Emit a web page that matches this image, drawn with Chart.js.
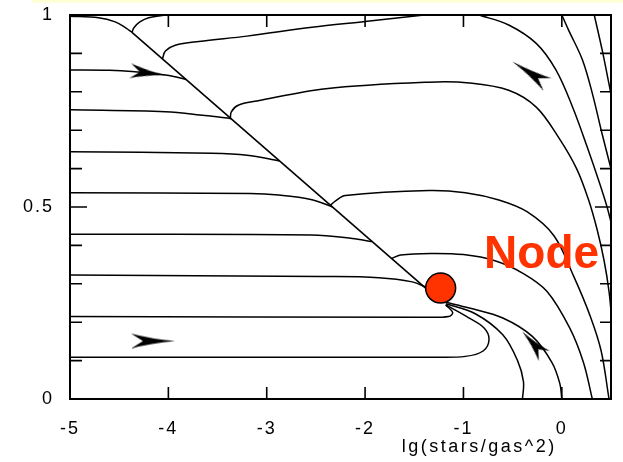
<!DOCTYPE html>
<html>
<head>
<meta charset="utf-8">
<script src="https://cdn.jsdelivr.net/npm/chart.js@4.4.1/dist/chart.umd.min.js"></script>
<style>
  body { margin: 0; background: #fff; }
  #wrap { position: relative; width: 623px; height: 462px; }
  #faixa { position: absolute; left: 32px; top: 0; width: 591px; height: 3px; background: #ffffd8; }
</style>
</head>
<body>
<div id="wrap">
  <div id="faixa"></div>
  <canvas id="grafico" width="623" height="462"></canvas>
</div>
<script>
// eixos
const ticksX = [-5, -4, -3, -2, -1, 0];
const rotulosX = ['-5', '-4', '-3', '-2', '-1', '0'];
const ticksY = [0, 0.5, 1];
const rotulosY = ['0', '0.5', '1'];
const marcasX = [-4, -3, -2, -1, 0];
const marcasY = [0.1, 0.2, 0.3, 0.4, 0.5, 0.6, 0.7, 0.8, 0.9];
const tituloX = 'lg(stars/gas^2)';

// trajetorias [x, y]
const curvaA = [[-5, 0.997], [-4.71, 0.993], [-4.54, 0.982], [-4.43, 0.966], [-4.37, 0.955]];
const curvaB = [[-4.02, 1.0], [-4.2, 0.993], [-4.29, 0.982], [-4.35, 0.967], [-4.37, 0.955]];
const diagonal = [[-4.37, 0.955], [-1.3, 0.27]];
const curvaC = [[-4.06, 0.886], [-4.03, 0.906], [-3.93, 0.921], [-3.69, 0.931], [-3.2, 0.945], [-2.54, 0.968], [-2.0, 0.983], [-1.4, 1.0]];
const curvaC2 = [[-3.37, 0.73], [-3.36, 0.748], [-3.29, 0.765], [-3.1, 0.776], [-2.4, 0.808], [-1.35, 0.825], [-0.94, 0.823], [-0.54, 0.804], [-0.26, 0.76], [-0.03, 0.68], [0.15, 0.6], [0.27, 0.52], [0.36, 0.44], [0.43, 0.36], [0.48, 0.28], [0.51, 0.2]];
const curvaC3 = [[-2.35, 0.505], [-2.3, 0.516], [-2.2, 0.53], [-1.35, 0.543], [-0.98, 0.537], [-0.64, 0.518], [-0.35, 0.487], [-0.08, 0.425], [0.12, 0.32], [0.29, 0.215], [0.4, 0.125], [0.48, 0]];
const curvaC4 = [[-1.73, 0.366], [-1.64, 0.375], [-1.33, 0.379], [-1.0, 0.376], [-0.68, 0.36], [-0.4, 0.328], [-0.15, 0.28], [0.08, 0.185], [0.22, 0.095], [0.31, 0]];
const curvaD = [[-0.84, 1.0], [-0.54, 0.974], [-0.26, 0.926], [-0.06, 0.857], [0.11, 0.76], [0.26, 0.655], [0.38, 0.565], [0.46, 0.5], [0.51, 0.45]];
const curvaE = [[0.0, 1.0], [0.07, 0.96], [0.21, 0.883], [0.31, 0.796], [0.41, 0.69], [0.51, 0.59]];
const curvaF = [[0.33, 1.0], [0.41, 0.909], [0.48, 0.82], [0.51, 0.78]];
const h1 = [[-5, 0.857], [-4.6, 0.856], [-4.37, 0.853], [-4.03, 0.844], [-3.93, 0.839], [-3.82, 0.832]];
const h2 = [[-5, 0.753], [-4.03, 0.748], [-3.63, 0.738], [-3.36, 0.73]];
const h3 = [[-5, 0.644], [-3.56, 0.64], [-3.2, 0.635], [-2.87, 0.62]];
const h4 = [[-5, 0.537], [-3.17, 0.535], [-2.88, 0.531], [-2.54, 0.519], [-2.33, 0.5]];
const h5 = [[-5, 0.429], [-2.54, 0.427], [-2.13, 0.418], [-1.93, 0.41]];
const h6 = [[-5, 0.323], [-2.44, 0.319], [-1.86, 0.316], [-1.52, 0.305], [-1.37, 0.29]];
const h7 = [[-5, 0.215], [-1.4, 0.213], [-1.15, 0.215], [-1.11, 0.225], [-1.18, 0.245]];
const h8 = [[-5, 0.109], [-1.33, 0.109], [-0.98, 0.111], [-0.8, 0.125], [-0.74, 0.155], [-0.79, 0.185], [-0.95, 0.212], [-1.18, 0.245]];
const h9 = [[-1.18, 0.248], [-0.88, 0.222], [-0.6, 0.167], [-0.45, 0.1], [-0.39, 0.045], [-0.4, 0]];
const curvaSeta = [[-1.18, 0.252], [-0.94, 0.237], [-0.6, 0.211], [-0.3, 0.163], [-0.1, 0.095], [-0.02, 0.04], [0, 0]];

// setas (centro e direcao em graus)
const setasX = [-4.206, -4.156, -0.324, -0.29];
const setasY = [0.849, 0.151, 0.849, 0.144];
const setasAng = [7, 0, 213, 228];
const setasComp = [36, 44, 42, 33];

// no
const noX = [-1.232];
const noY = [0.289];
const rotuloNo = { texto: 'Node', x: -0.79, y: 0.341 };

const curvas = [curvaA, curvaB, curvaC, curvaC2, curvaC3, curvaC4, curvaD, curvaE, curvaF,
  h1, h2, h3, h4, h5, h6, h7, h8, h9, curvaSeta];

function criarSeta(comp, larg) {
  const c = document.createElement('canvas');
  c.width = comp;
  c.height = larg + 2;
  const g = c.getContext('2d');
  const m = c.height / 2;
  g.fillStyle = '#000';
  g.beginPath();
  g.moveTo(comp, m);
  g.quadraticCurveTo(comp * 0.45, m - larg * 0.14, 0, m - larg / 2);
  g.lineTo(comp * 0.27, m);
  g.lineTo(0, m + larg / 2);
  g.quadraticCurveTo(comp * 0.45, m + larg * 0.14, comp, m);
  g.fill();
  return c;
}

const pts = arr => arr.map(([x, y]) => ({ x, y }));

const datasets = curvas.map(c => ({
  data: pts(c),
  showLine: true,
  borderColor: '#000',
  borderWidth: 1.5,
  pointRadius: 0,
  tension: 0.35,
  fill: false
}));

datasets.push({
  data: pts(diagonal),
  showLine: true,
  borderColor: '#000',
  borderWidth: 1.6,
  pointRadius: 0,
  tension: 0
});

datasets.push({
  data: setasX.map((x, i) => ({ x, y: setasY[i] })),
  showLine: false,
  pointStyle: setasComp.map(c => criarSeta(c, 15)),
  rotation: setasAng,
  pointRadius: 10,
  order: -1
});

datasets.push({
  data: noX.map((x, i) => ({ x, y: noY[i] })),
  showLine: false,
  pointRadius: 15,
  pointBackgroundColor: '#ff3300',
  pointBorderColor: '#000',
  pointBorderWidth: 1.5,
  order: -2
});

const moldura = {
  id: 'moldura',
  beforeDraw(chart) {
    chart.ctx.letterSpacing = '2px';
  },
  afterDatasetsDraw(chart) {
    const { ctx, scales } = chart;
    ctx.save();
    ctx.letterSpacing = '0px';
    ctx.fillStyle = '#ff3300';
    ctx.font = 'bold 46px "Liberation Sans", Arial, sans-serif';
    ctx.textAlign = 'left';
    ctx.textBaseline = 'alphabetic';
    ctx.fillText(rotuloNo.texto, scales.x.getPixelForValue(rotuloNo.x), scales.y.getPixelForValue(rotuloNo.y));
    ctx.restore();
  },
  afterDraw(chart) {
    const { ctx, chartArea: a, scales } = chart;
    ctx.save();
    ctx.strokeStyle = '#000';
    ctx.lineWidth = 2;
    ctx.strokeRect(a.left, a.top, a.right - a.left, a.bottom - a.top);
    ctx.lineWidth = 1.6;
    ctx.beginPath();
    marcasX.forEach(v => {
      const px = scales.x.getPixelForValue(v);
      ctx.moveTo(px, a.bottom); ctx.lineTo(px, a.bottom - 12);
      ctx.moveTo(px, a.top); ctx.lineTo(px, a.top + 12);
    });
    marcasY.forEach(v => {
      const py = scales.y.getPixelForValue(v);
      const len = v === 0.5 ? 17 : 12;
      ctx.moveTo(a.left, py); ctx.lineTo(a.left + len, py);
      ctx.moveTo(a.right, py); ctx.lineTo(a.right - len + 1, py);
    });
    ctx.stroke();

    ctx.letterSpacing = '2.5px';
    ctx.fillStyle = '#000';
    ctx.font = '18px "Liberation Sans", Arial, sans-serif';
    ctx.textAlign = 'center';
    ctx.textBaseline = 'alphabetic';
    ctx.fillText(tituloX, scales.x.getPixelForValue(-0.84), 452);
    ctx.restore();
  }
};

new Chart(document.getElementById('grafico').getContext('2d'), {
  type: 'scatter',
  data: { datasets },
  plugins: [moldura],
  options: {
    responsive: false,
    animation: false,
    layout: { autoPadding: false, padding: { top: 15, right: 12, left: 0, bottom: 0 } },
    plugins: { legend: { display: false }, tooltip: { enabled: false } },
    scales: {
      x: {
        type: 'linear',
        min: -5,
        max: 0.5,
        grid: { display: false },
        border: { display: false },
        afterFit: s => { s.height = 63; s.paddingLeft = 0; s.paddingRight = 0; },
        afterBuildTicks: s => { s.ticks = ticksX.map(v => ({ value: v })); },
        ticks: {
          autoSkip: false,
          maxRotation: 0,
          padding: 11,
          color: '#000',
          font: { family: '"Liberation Sans", Arial, sans-serif', size: 18 },
          callback: v => rotulosX[ticksX.indexOf(v)]
        }
      },
      y: {
        type: 'linear',
        min: 0,
        max: 1,
        grid: { display: false },
        border: { display: false },
        afterFit: s => { s.width = 70; s.paddingTop = 0; s.paddingBottom = 0; },
        afterBuildTicks: s => { s.ticks = ticksY.map(v => ({ value: v })); },
        ticks: {
          autoSkip: false,
          padding: 8,
          color: '#000',
          font: { family: '"Liberation Sans", Arial, sans-serif', size: 18 },
          callback: v => rotulosY[ticksY.indexOf(v)]
        }
      }
    }
  }
});
</script>
</body>
</html>
